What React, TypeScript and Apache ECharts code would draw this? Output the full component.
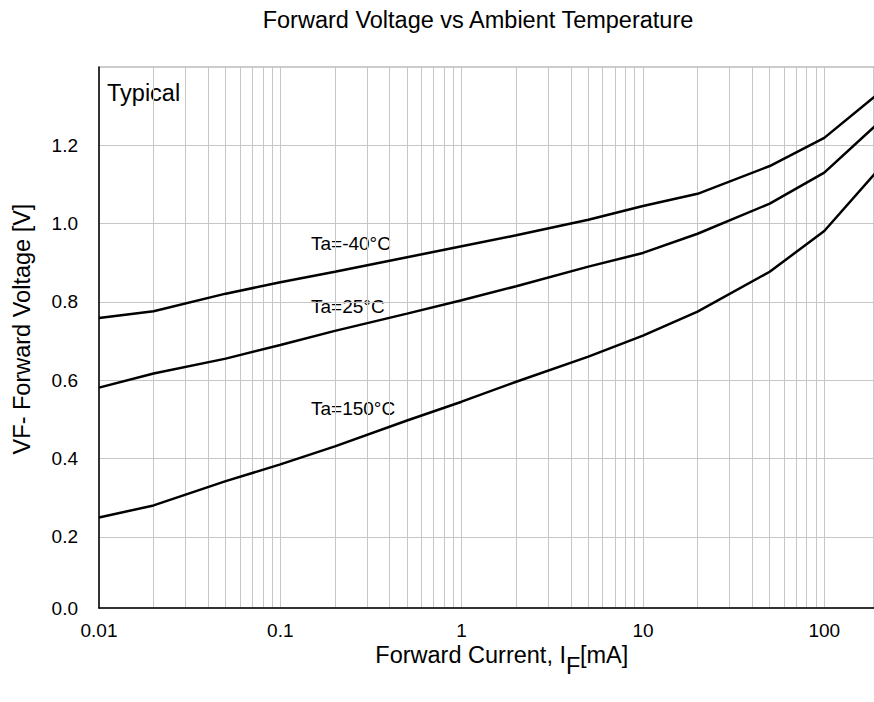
import React, { useEffect, useRef } from "react";
import * as echarts from "echarts";

// Forward current [mA] at which the curves are sampled
const CURRENT_MA = [0.01, 0.02, 0.05, 0.1, 0.2, 0.5, 1, 2, 5, 10, 20, 50, 100, 200];
// Forward voltage [V] per ambient temperature
const VF_M40 = [0.759, 0.776, 0.821, 0.85, 0.877, 0.914, 0.942, 0.97, 1.01, 1.045, 1.076, 1.147, 1.219, 1.333];
const VF_25 = [0.581, 0.617, 0.655, 0.69, 0.726, 0.77, 0.804, 0.84, 0.89, 0.925, 0.974, 1.051, 1.13, 1.258];
const VF_150 = [0.249, 0.28, 0.342, 0.385, 0.431, 0.497, 0.545, 0.596, 0.66, 0.714, 0.775, 0.877, 0.981, 1.139];

const SERIES_NAMES = ["Ta=-40°C", "Ta=25°C", "Ta=150°C"];

// axis ticks
const X_TICK_VALUES = [0.01, 0.1, 1, 10, 100];
const X_TICK_LABELS = ["0.01", "0.1", "1", "10", "100"];
const X_DECADES = [0.01, 0.1, 1, 10];
const X_MULTIPLIERS = [1, 2, 3, 4, 5, 6, 7, 8, 9];
const X_MAX_MA = 188;
const Y_MIN = 0.018;
const Y_MAX = 1.4;
const Y_TICK_VALUES = [0.2, 0.4, 0.6, 0.8, 1.0, 1.2];

const FONT = '"Liberation Sans", Arial, sans-serif';

export default function App() {
  const ref = useRef<HTMLDivElement>(null);

  useEffect(() => {
    if (!ref.current) return;
    const chart = echarts.init(ref.current, undefined, { renderer: "svg" });

    const toPoints = (vals: number[]) => CURRENT_MA.map((c, i) => [Math.log10(c), vals[i]]);
    const gridValues: number[] = [];
    X_DECADES.forEach((d) => X_MULTIPLIERS.forEach((m) => gridValues.push(Math.log10(d * m))));
    gridValues.push(Math.log10(100));

    const lineSeries = (name: string, vals: number[]) => ({
      name,
      type: "line",
      data: toPoints(vals),
      showSymbol: false,
      symbol: "none",
      smooth: false,
      clip: true,
      lineStyle: { color: "#000", width: 2.5 },
      silent: true,
    });

    chart.setOption({
      animation: false,
      backgroundColor: "#fff",
      grid: {
        left: 99,
        right: -1,
        top: 67,
        bottom: 94,
        show: true,
        borderColor: "#999",
        borderWidth: 1,
        backgroundColor: "transparent",
      },
      xAxis: {
        type: "value",
        min: Math.log10(0.01),
        max: Math.log10(X_MAX_MA),
        axisLine: { show: true, onZero: false, lineStyle: { color: "#000", width: 1.5 } },
        axisTick: { show: false, customValues: gridValues },
        axisLabel: {
          customValues: X_TICK_VALUES.map((v) => Math.log10(v)),
          formatter: (v: number) => {
            let best = 0;
            X_TICK_VALUES.forEach((t, i) => {
              if (Math.abs(Math.log10(t) - v) < Math.abs(Math.log10(X_TICK_VALUES[best]) - v)) best = i;
            });
            return X_TICK_LABELS[best];
          },
          color: "#000",
          fontSize: 19,
          fontFamily: FONT,
          margin: 13,
        },
        splitLine: { show: true, lineStyle: { color: "#c6c6c6", width: 1 } },
      },
      yAxis: {
        type: "value",
        min: Y_MIN,
        max: Y_MAX,
        axisLine: { show: true, onZero: false, lineStyle: { color: "#000", width: 1.5 } },
        axisTick: { show: false, customValues: Y_TICK_VALUES },
        axisLabel: {
          customValues: [Y_MIN, ...Y_TICK_VALUES],
          formatter: (v: number) => (v === Y_MIN ? "0.0" : v.toFixed(1)),
          color: "#000",
          fontSize: 19,
          fontFamily: FONT,
          margin: 21,
        },
        splitLine: { show: true, lineStyle: { color: "#c6c6c6", width: 1 } },
      },
      series: [
        lineSeries(SERIES_NAMES[0], VF_M40),
        lineSeries(SERIES_NAMES[1], VF_25),
        lineSeries(SERIES_NAMES[2], VF_150),
      ],
      graphic: [
        {
          type: "text",
          x: 478,
          y: 20,
          style: {
            text: "Forward Voltage vs Ambient Temperature",
            fontSize: 23.5,
            fontFamily: FONT,
            fill: "#000",
            align: "center",
            verticalAlign: "middle",
          },
        },
        {
          type: "text",
          x: 22,
          y: 329,
          rotation: Math.PI / 2,
          style: {
            text: "VF- Forward Voltage [V]",
            fontSize: 23.5,
            fontFamily: FONT,
            fill: "#000",
            align: "center",
            verticalAlign: "middle",
          },
        },
        {
          type: "text",
          x: 566,
          y: 655,
          style: {
            text: "Forward Current, I",
            fontSize: 23.5,
            fontFamily: FONT,
            fill: "#000",
            align: "right",
            verticalAlign: "middle",
          },
        },
        {
          type: "text",
          x: 566,
          y: 666,
          style: {
            text: "F",
            fontSize: 23.5,
            fontFamily: FONT,
            fill: "#000",
            align: "left",
            verticalAlign: "middle",
          },
        },
        {
          type: "text",
          x: 580,
          y: 655,
          style: {
            text: "[mA]",
            fontSize: 23.5,
            fontFamily: FONT,
            fill: "#000",
            align: "left",
            verticalAlign: "middle",
          },
        },
        {
          type: "text",
          x: 107,
          y: 93,
          style: {
            text: "Typical",
            fontSize: 23.5,
            fontFamily: FONT,
            fill: "#000",
            align: "left",
            verticalAlign: "middle",
          },
        },
        {
          type: "text",
          x: 311,
          y: 243,
          style: { text: SERIES_NAMES[0], fontSize: 19, fontFamily: FONT, fill: "#000", align: "left", verticalAlign: "middle" },
        },
        {
          type: "text",
          x: 311,
          y: 306,
          style: { text: SERIES_NAMES[1], fontSize: 19, fontFamily: FONT, fill: "#000", align: "left", verticalAlign: "middle" },
        },
        {
          type: "text",
          x: 311,
          y: 408,
          style: { text: SERIES_NAMES[2], fontSize: 19, fontFamily: FONT, fill: "#000", align: "left", verticalAlign: "middle" },
        },
      ],
    });

    return () => chart.dispose();
  }, []);

  return (
    <div
      ref={ref}
      style={{ position: "absolute", left: 0, top: 0, width: 874, height: 702, background: "#fff" }}
    />
  );
}
